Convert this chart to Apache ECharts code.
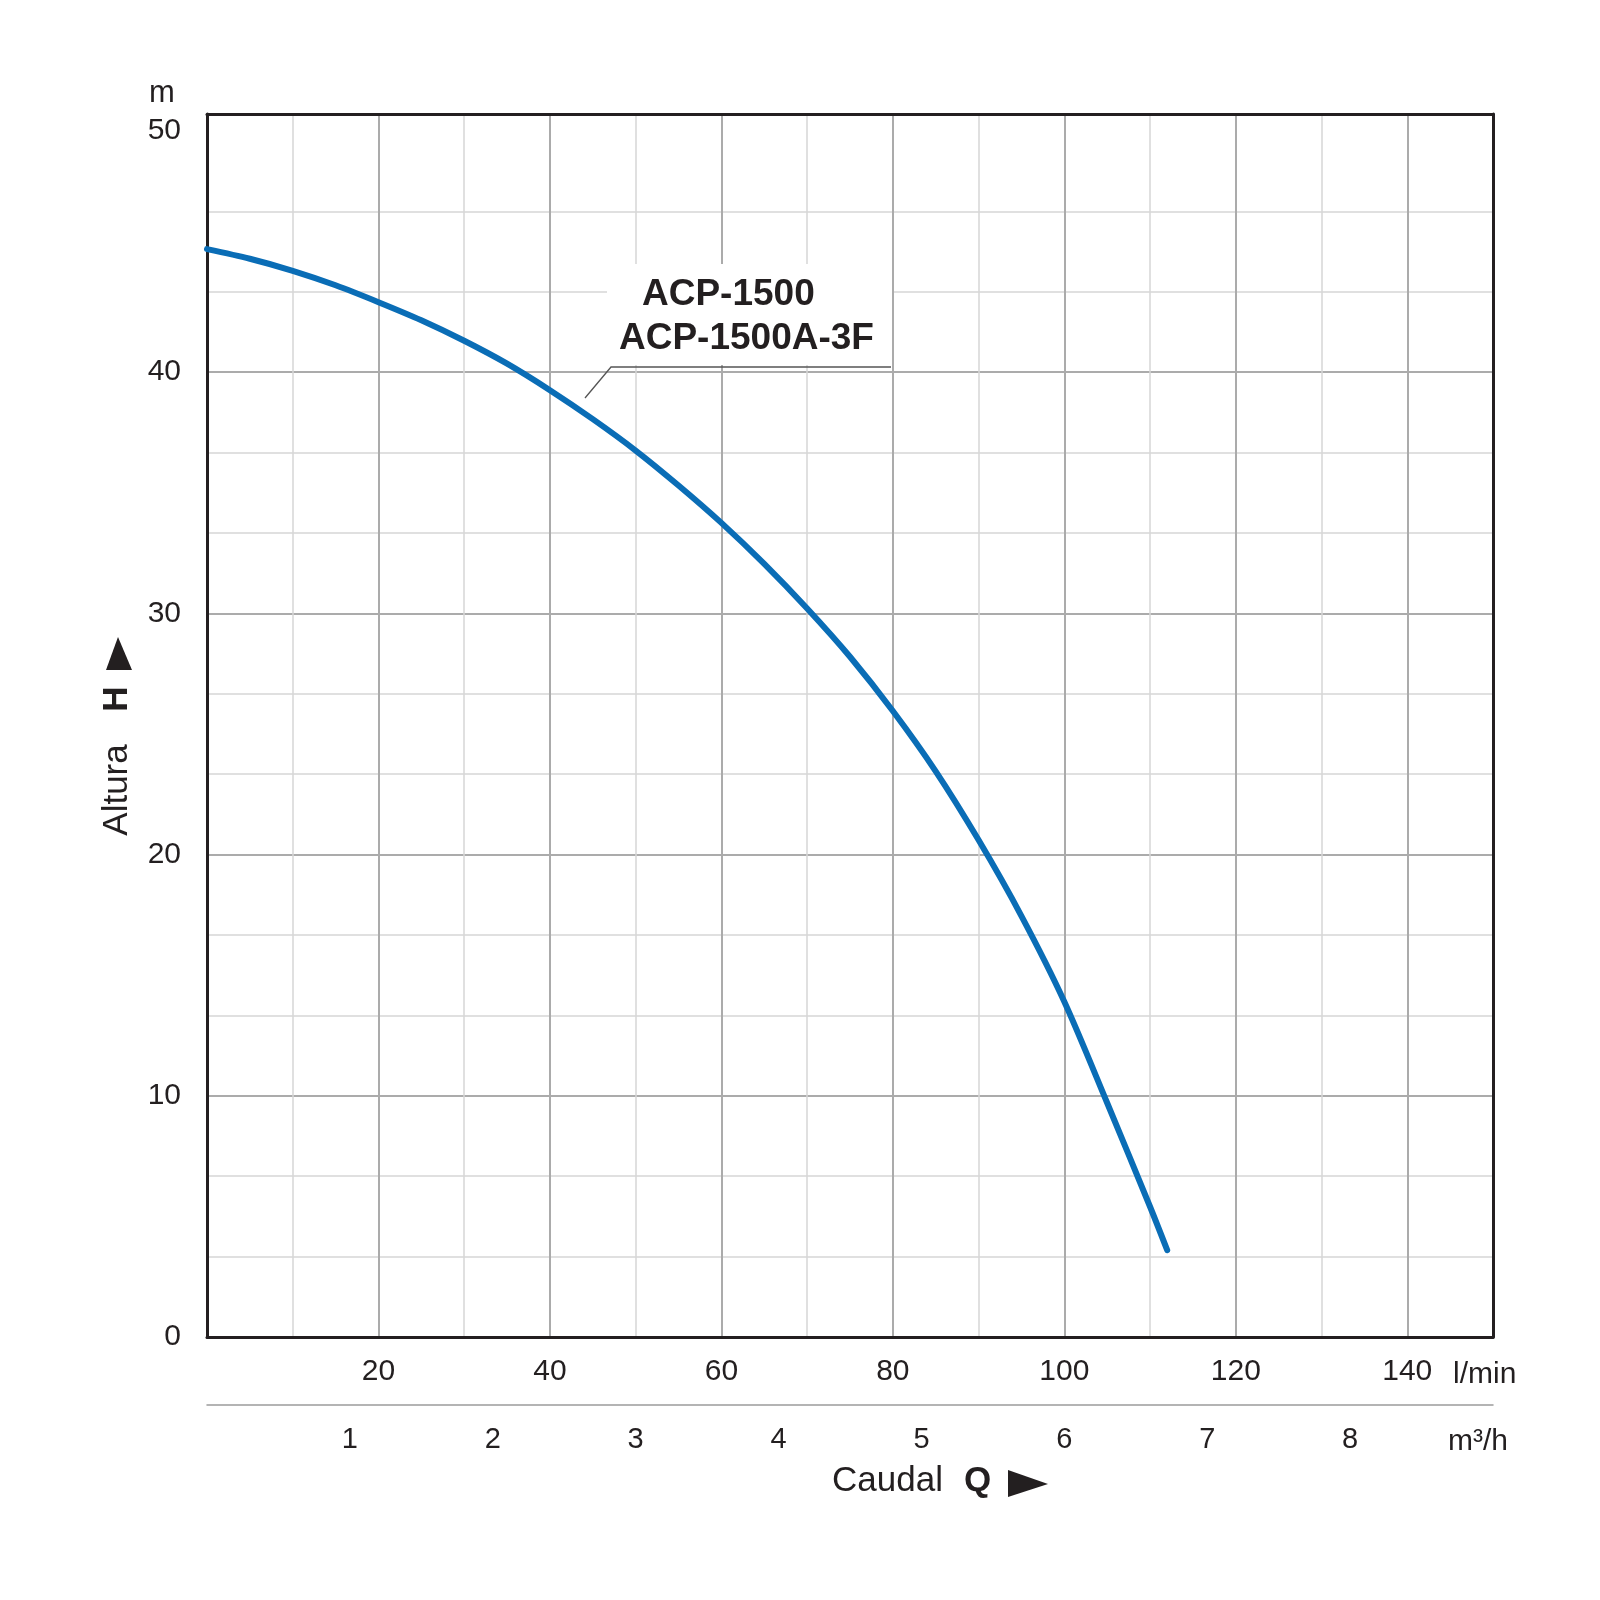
<!DOCTYPE html>
<html>
<head>
<meta charset="UTF-8">
<title>ACP-1500 curva</title>
<style>
  body{margin:0;background:#fff;}
  #main{width:1600px;height:1600px;}
</style>
</head>
<body>
<div id="main"></div>
<script src="https://cdn.jsdelivr.net/npm/echarts@6/dist/echarts.min.js"></script>
<script>
// caudal (l/min) y altura (m)
var caudal = [0, 5, 10, 15, 20, 25, 30, 35, 40, 45, 50, 55, 60, 65, 70, 75, 80, 85, 90, 95, 100, 105, 110, 112];
var altura = [45.1, 44.7, 44.2, 43.6, 42.9, 42.15, 41.3, 40.35, 39.25, 38.05, 36.75, 35.3, 33.75, 32.05, 30.2, 28.2,
              25.95, 23.45, 20.6, 17.45, 13.9, 9.7, 5.4, 3.6];
// etiquetas de los ejes
var ticksLmin = [20, 40, 60, 80, 100, 120, 140];
var ticksM3h = [1, 2, 3, 4, 5, 6, 7, 8];
var ticksH = [0, 10, 20, 30, 40, 50];
var modelos = ['ACP-1500', 'ACP-1500A-3F'];

var font = 'Liberation Sans, Arial, Helvetica, sans-serif';
var ink = '#231f20';
var gris = '#ababab';

function soloTicks(lista) {
  return function (v) { return lista.indexOf(v) >= 0 ? String(v) : ''; };
}

var myChart = echarts.init(document.getElementById('main'));
var option = {
  backgroundColor: '#fff',
  animation: false,
  grid: { left: 207, right: 107, top: 114, bottom: 263 },
  xAxis: [
    {
      type: 'value', position: 'bottom', min: 0, max: 150, interval: 20,
      axisLine: { show: true, onZero: false, lineStyle: { color: ink, width: 3 } },
      axisTick: { show: false },
      axisLabel: { color: ink, fontSize: 30, fontFamily: font, margin: 20, formatter: soloTicks(ticksLmin) },
      splitLine: { show: true, showMinLine: false, showMaxLine: false, lineStyle: { color: gris, width: 2 } },
      minorTick: { show: false, splitNumber: 2 },
      minorSplitLine: { show: true, lineStyle: { color: '#d6d6d6', width: 1.5 } }
    },
    {
      // escala en m3/h
      type: 'value', position: 'bottom', offset: 68, min: 0, max: 9, interval: 1,
      axisLine: { show: true, onZero: false, lineStyle: { color: '#9c9c9c', width: 1.5 } },
      axisTick: { show: false },
      axisLabel: { color: ink, fontSize: 29, fontFamily: font, margin: 20, formatter: soloTicks(ticksM3h) },
      splitLine: { show: false }
    },
    {
      type: 'value', position: 'top', min: 0, max: 150,
      axisLine: { show: true, onZero: false, lineStyle: { color: ink, width: 3 } },
      axisTick: { show: false }, axisLabel: { show: false }, splitLine: { show: false }
    }
  ],
  yAxis: [
    {
      type: 'value', position: 'left', min: 0, max: 50.7, interval: 10,
      axisLine: { show: true, onZero: false, lineStyle: { color: ink, width: 3 } },
      axisTick: { show: false },
      axisLabel: { color: ink, fontSize: 30, fontFamily: font, margin: 26, formatter: soloTicks(ticksH) },
      // 10..50, la de 50 no se ve en el original
      splitLine: { show: true, showMinLine: false, showMaxLine: false,
        lineStyle: { color: [gris, gris, gris, gris, '#ffffff'], width: 2 } },
      minorTick: { show: false, splitNumber: 3 },
      minorSplitLine: { show: true, lineStyle: { color: '#d6d6d6', width: 1.5 } }
    },
    {
      type: 'value', position: 'right', min: 0, max: 50.7,
      axisLine: { show: true, onZero: false, lineStyle: { color: ink, width: 3 } },
      axisTick: { show: false }, axisLabel: { show: false }, splitLine: { show: false }
    }
  ],
  series: [{
    name: modelos.join(' / '),
    type: 'line',
    xAxisIndex: 0, yAxisIndex: 0,
    data: caudal.map(function (q, i) { return [q, altura[i]]; }),
    smooth: 0.3,
    showSymbol: false,
    lineStyle: { color: '#0a6db6', width: 6, cap: 'round', join: 'round' },
    z: 3
  }],
  graphic: [
    // titulos y unidades
    { type: 'text', x: 162, y: 93, style: { text: 'm', fill: ink, fontSize: 31, fontFamily: font, align: 'center', verticalAlign: 'middle' } },
    { type: 'text', x: 1453, y: 1375, style: { text: 'l/min', fill: ink, fontSize: 30, fontFamily: font, align: 'left', verticalAlign: 'middle' } },
    { type: 'text', x: 1448, y: 1442, style: { text: 'm³/h', fill: ink, fontSize: 30, fontFamily: font, align: 'left', verticalAlign: 'middle' } },
    { type: 'text', x: 832, y: 1481, style: { text: 'Caudal', fill: ink, fontSize: 35, fontFamily: font, align: 'left', verticalAlign: 'middle' } },
    { type: 'text', x: 964, y: 1481, style: { text: 'Q', fill: ink, fontSize: 35, fontWeight: 'bold', fontFamily: font, align: 'left', verticalAlign: 'middle' } },
    { type: 'polygon', shape: { points: [[1008, 1470], [1048, 1484], [1008, 1497]] }, style: { fill: ink } },
    { type: 'text', x: 117, y: 790, rotation: Math.PI / 2, style: { text: 'Altura', fill: ink, fontSize: 35, fontFamily: font, align: 'center', verticalAlign: 'middle' } },
    { type: 'text', x: 117, y: 699, rotation: Math.PI / 2, style: { text: 'H', fill: ink, fontSize: 35, fontWeight: 'bold', fontFamily: font, align: 'center', verticalAlign: 'middle' } },
    { type: 'polygon', shape: { points: [[118, 637], [106, 670], [132, 670]] }, style: { fill: ink } },
    // etiqueta del modelo
    { type: 'rect', z: 10, shape: { x: 607, y: 264, width: 285, height: 101 }, style: { fill: '#fff' } },
    { type: 'polyline', z: 11, shape: { points: [[891, 367], [611, 367], [585, 398]] }, style: { stroke: '#555', lineWidth: 1.3, fill: null } },
    { type: 'text', z: 11, x: 642, y: 295, style: { text: modelos[0], fill: ink, fontSize: 37, fontWeight: 'bold', fontFamily: font, align: 'left', verticalAlign: 'middle' } },
    { type: 'text', z: 11, x: 619, y: 339, style: { text: modelos[1], fill: ink, fontSize: 37, fontWeight: 'bold', fontFamily: font, align: 'left', verticalAlign: 'middle' } }
  ]
};
myChart.setOption(option);
</script>
</body>
</html>
